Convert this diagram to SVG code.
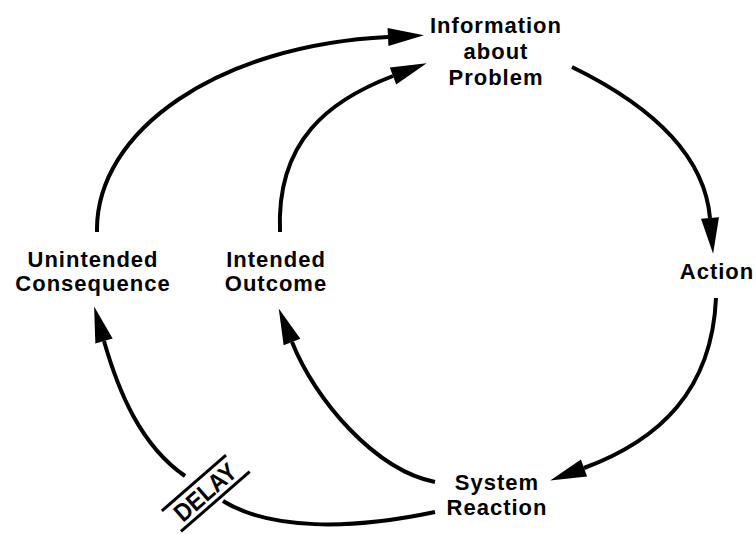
<svg xmlns="http://www.w3.org/2000/svg" width="756" height="534" viewBox="0 0 756 534">
<style>
.lbl{font-family:"Liberation Sans",Arial,sans-serif;font-weight:bold;font-size:22px;letter-spacing:1px;fill:#000;text-anchor:middle}
.arc{fill:none;stroke:#000;stroke-width:4;stroke-linecap:butt}
.dl{stroke:#000;stroke-width:3}
</style>
<defs>
<marker id="ah" markerUnits="userSpaceOnUse" markerWidth="40" markerHeight="20" refX="0" refY="9" orient="auto" overflow="visible">
<path d="M0,0 L36,9 L0,18 Z" fill="#000"/>
</marker>
</defs>
<rect width="756" height="534" fill="#fff"/>
<g id="connectors">
<path class="arc" d="M97,232 C95,130 220,45 388,37" marker-end="url(#ah)"/>
<path class="arc" d="M280,232 C276,140 330,100 393,76" marker-end="url(#ah)"/>
<path class="arc" d="M572,67 C660,110 705,160 710,218" marker-end="url(#ah)"/>
<path class="arc" d="M716,298 C712,390 660,440 584,468" marker-end="url(#ah)"/>
<path class="arc" d="M435,482 C375,470 315,400 292,342" marker-end="url(#ah)"/>
<path class="arc" d="M185,476 C140,445 118,390 104,341" marker-end="url(#ah)"/>
<path class="arc" d="M223,501 C270,530 350,530 435,512"/>
</g>
<g id="delay" transform="translate(205,492) rotate(-41)">
<line class="dl" x1="-45" y1="-14" x2="40" y2="-14"/>
<line class="dl" x1="-44" y1="14" x2="47" y2="14"/>
<text x="0" y="9" textLength="74" lengthAdjust="spacingAndGlyphs" style="font-family:'Liberation Sans',Arial,sans-serif;font-weight:bold;font-size:25px;text-anchor:middle">DELAY</text>
</g>
<g id="info">
<text class="lbl" x="496" y="33">Information</text>
<text class="lbl" x="496" y="59">about</text>
<text class="lbl" x="496" y="85">Problem</text>
</g>
<g id="action">
<text class="lbl" x="717" y="279">Action</text>
</g>
<g id="system">
<text class="lbl" x="497" y="490">System</text>
<text class="lbl" x="497" y="515">Reaction</text>
</g>
<g id="intended">
<text class="lbl" x="276" y="267">Intended</text>
<text class="lbl" x="276" y="291">Outcome</text>
</g>
<g id="unintended">
<text class="lbl" x="93" y="267">Unintended</text>
<text class="lbl" x="93" y="291">Consequence</text>
</g>
</svg>
